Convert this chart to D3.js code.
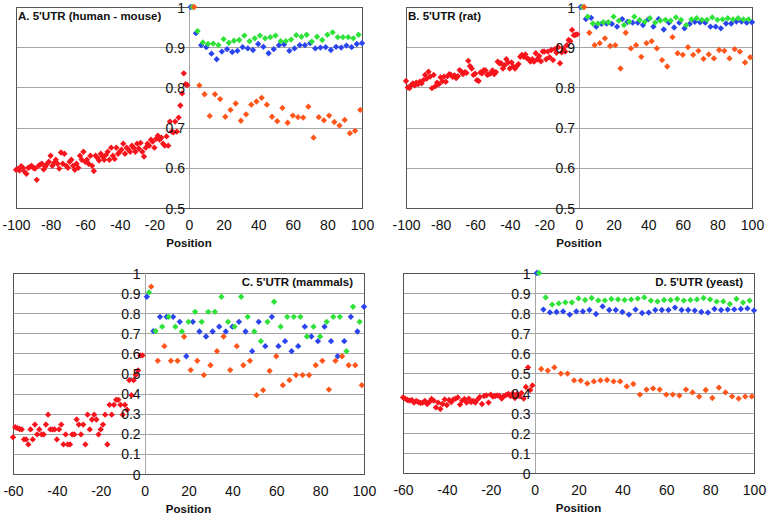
<!DOCTYPE html>
<html>
<head>
<meta charset="utf-8">
<script src="https://cdn.jsdelivr.net/npm/d3@7"></script>
<style>
  body { margin: 0; background: #fff; }
  svg { display: block; font-family: "Liberation Sans", Arial, sans-serif; }
</style>
</head>
<body>
<div id="chart"></div>
<script>
// values: red = upstream positions, then codon positions 1/2/3 (blue/green/orange)

var aRed = [
  0.595, 0.597, 0.593, 0.604, 0.600, 0.590, 0.585, 0.600, 0.602, 0.605,
  0.600, 0.598, 0.570, 0.605, 0.608, 0.610, 0.596, 0.603, 0.610, 0.615,
  0.630, 0.605, 0.612, 0.620, 0.610, 0.598, 0.638, 0.610, 0.635, 0.605,
  0.600, 0.615, 0.620, 0.605, 0.595, 0.610, 0.600, 0.630, 0.620, 0.640,
  0.615, 0.620, 0.610, 0.630, 0.605, 0.592, 0.630, 0.625, 0.618, 0.635,
  0.628, 0.620, 0.632, 0.640, 0.620, 0.650, 0.630, 0.622, 0.650, 0.635,
  0.640, 0.645, 0.660, 0.635, 0.650, 0.645, 0.640, 0.655, 0.650, 0.640,
  0.660, 0.648, 0.662, 0.640, 0.628, 0.650, 0.660, 0.655, 0.670, 0.665,
  0.650, 0.672, 0.680, 0.670, 0.675, 0.660, 0.655, 0.678, 0.655, 0.715,
  0.690, 0.688, 0.715, 0.690, 0.725, 0.755, 0.785, 0.835, 0.808, 0.806
];
var aBlue = [1, 0.935, 0.905, 0.900, 0.884, 0.870, 0.889, 0.895, 0.888, 0.891,
  0.900, 0.897, 0.893, 0.908, 0.901, 0.885, 0.895, 0.905, 0.907, 0.891,
  0.897, 0.905, 0.905, 0.910, 0.897, 0.899, 0.900, 0.893, 0.901, 0.899,
  0.904, 0.900, 0.908, 0.910];
var aGreen = [1, 0.940, 0.912, 0.908, 0.909, 0.905, 0.920, 0.911, 0.916, 0.918,
  0.929, 0.915, 0.922, 0.929, 0.922, 0.925, 0.929, 0.915, 0.915, 0.919,
  0.930, 0.926, 0.931, 0.914, 0.926, 0.918, 0.931, 0.937, 0.925, 0.925,
  0.925, 0.922, 0.931];
var aOrange = [1, 0.805, 0.783, 0.729, 0.783, 0.771, 0.727, 0.744, 0.760, 0.717,
  0.733, 0.757, 0.765, 0.774, 0.757, 0.727, 0.716, 0.749, 0.712, 0.730,
  0.726, 0.725, 0.752, 0.675, 0.726, 0.718, 0.730, 0.714, 0.705, 0.719,
  0.686, 0.692, 0.744];

var bRed = [
  0.816, 0.800, 0.798, 0.806, 0.810, 0.805, 0.812, 0.808, 0.814, 0.810,
  0.818, 0.831, 0.822, 0.839, 0.827, 0.798, 0.831, 0.803, 0.812, 0.808,
  0.825, 0.815, 0.827, 0.814, 0.828, 0.833, 0.831, 0.826, 0.830, 0.823,
  0.828, 0.843, 0.839, 0.833, 0.838, 0.836, 0.866, 0.853, 0.847, 0.831,
  0.834, 0.818, 0.816, 0.837, 0.835, 0.843, 0.842, 0.831, 0.833, 0.835,
  0.842, 0.833, 0.838, 0.864, 0.860, 0.860, 0.847, 0.855, 0.870, 0.862,
  0.847, 0.862, 0.852, 0.847, 0.853, 0.858, 0.876, 0.881, 0.876, 0.882,
  0.872, 0.870, 0.864, 0.870, 0.864, 0.885, 0.870, 0.878, 0.865, 0.889,
  0.889, 0.870, 0.889, 0.875, 0.893, 0.868, 0.895, 0.886, 0.900, 0.860,
  0.887, 0.897, 0.889, 0.905, 0.918, 0.915, 0.943, 0.930, 0.931, 0.932
];
var bBlue = [1, 0.970, 0.973, 0.951, 0.958, 0.959, 0.958, 0.951, 0.970, 0.963,
  0.961, 0.961, 0.955, 0.969, 0.951, 0.970, 0.944, 0.961, 0.949, 0.961,
  0.947, 0.958, 0.963, 0.962, 0.961, 0.951, 0.951, 0.947, 0.959, 0.959,
  0.964, 0.964, 0.961, 0.962];
var bGreen = [1, 0.976, 0.959, 0.959, 0.962, 0.962, 0.976, 0.966, 0.955, 0.963,
  0.976, 0.968, 0.963, 0.972, 0.961, 0.966, 0.968, 0.966, 0.974, 0.968,
  0.955, 0.969, 0.972, 0.968, 0.968, 0.974, 0.968, 0.969, 0.972, 0.969,
  0.972, 0.969, 0.969];
var bOrange = [1, 0.936, 0.905, 0.910, 0.922, 0.903, 0.905, 0.847, 0.936, 0.897,
  0.905, 0.876, 0.910, 0.915, 0.897, 0.868, 0.852, 0.925, 0.885, 0.881,
  0.900, 0.881, 0.891, 0.871, 0.882, 0.872, 0.893, 0.891, 0.872, 0.895,
  0.889, 0.862, 0.875];

var cRed = [
  0.183, 0.233, 0.228, 0.224, 0.222, 0.172, 0.172, 0.147, 0.222, 0.172,
  0.246, 0.197, 0.222, 0.197, 0.197, 0.246, 0.295, 0.222, 0.222, 0.222,
  0.172, 0.222, 0.246, 0.147, 0.197, 0.147, 0.147, 0.197, 0.197, 0.271,
  0.246, 0.197, 0.246, 0.147, 0.295, 0.222, 0.271, 0.295, 0.271, 0.197,
  0.222, 0.246, 0.295, 0.147, 0.344, 0.295, 0.344, 0.369, 0.369, 0.344,
  0.295, 0.344, 0.320, 0.467, 0.392, 0.467, 0.493, 0.515, 0.590, 0.590
];
var cBlue = [0.882, 0.711, 0.782, 0.782, 0.782, 0.757, 0.586, 0.757, 0.709, 0.684,
  0.709, 0.733, 0.709, 0.733, 0.757, 0.709, 0.611, 0.757, 0.636, 0.782,
  0.636, 0.661, 0.611, 0.636, 0.733, 0.684, 0.661, 0.733, 0.661, 0.586,
  0.661, 0.782, 0.709, 0.832];
var cGreen = [0.904, 0.711, 0.733, 0.782, 0.733, 0.709, 0.757, 0.807, 0.757, 0.807,
  0.807, 0.882, 0.757, 0.733, 0.882, 0.782, 0.709, 0.661, 0.757, 0.857,
  0.733, 0.782, 0.782, 0.782, 0.684, 0.733, 0.684, 0.757, 0.782, 0.782,
  0.611, 0.832, 0.757];
var cOrange = [0.932, 0.563, 0.636, 0.563, 0.563, 0.683, 0.517, 0.563, 0.492, 0.541,
  0.611, 0.684, 0.517, 0.636, 0.541, 0.563, 0.392, 0.417, 0.513, 0.586,
  0.442, 0.467, 0.492, 0.492, 0.492, 0.541, 0.563, 0.420, 0.563, 0.586,
  0.541, 0.541, 0.442];

var dRed = [
  0.378, 0.372, 0.365, 0.362, 0.365, 0.352, 0.360, 0.355, 0.350, 0.352,
  0.360, 0.345, 0.355, 0.370, 0.362, 0.328, 0.352, 0.320, 0.345, 0.368,
  0.340, 0.365, 0.355, 0.368, 0.372, 0.378, 0.342, 0.362, 0.370, 0.352,
  0.372, 0.355, 0.360, 0.352, 0.368, 0.380, 0.345, 0.385, 0.388, 0.352,
  0.392, 0.382, 0.385, 0.388, 0.385, 0.372, 0.385, 0.390, 0.395, 0.385,
  0.398, 0.375, 0.395, 0.385, 0.400, 0.372, 0.430, 0.528, 0.415, 0.438
];
var dBlue = [1, 0.817, 0.803, 0.805, 0.808, 0.792, 0.808, 0.808, 0.815, 0.795,
  0.833, 0.815, 0.815, 0.805, 0.792, 0.817, 0.800, 0.802, 0.815, 0.815,
  0.815, 0.827, 0.815, 0.815, 0.812, 0.805, 0.802, 0.820, 0.815, 0.817,
  0.818, 0.820, 0.823, 0.813];
var dGreen = [1, 0.878, 0.842, 0.848, 0.853, 0.853, 0.873, 0.865, 0.875, 0.863,
  0.863, 0.870, 0.868, 0.865, 0.868, 0.872, 0.878, 0.862, 0.858, 0.865,
  0.865, 0.870, 0.862, 0.865, 0.868, 0.875, 0.868, 0.857, 0.858, 0.845,
  0.870, 0.852, 0.862];
var dOrange = [0.520, 0.512, 0.528, 0.497, 0.497, 0.463, 0.462, 0.448, 0.458, 0.463,
  0.465, 0.458, 0.458, 0.433, 0.445, 0.392, 0.417, 0.423, 0.417, 0.392,
  0.392, 0.387, 0.417, 0.403, 0.382, 0.415, 0.375, 0.427, 0.403, 0.383,
  0.372, 0.382, 0.383];

var ticksX100 = [-100, -80, -60, -40, -20, 0, 20, 40, 60, 80, 100];
var ticksX60 = [-60, -40, -20, 0, 20, 40, 60, 80, 100];
var ticksYHalf = [0.5, 0.6, 0.7, 0.8, 0.9, 1];
var ticksYFull = [0, 0.1, 0.2, 0.3, 0.4, 0.5, 0.6, 0.7, 0.8, 0.9, 1];

var colors = { red: "#f8141c", blue: "#2a44ee", green: "#2fe23a", orange: "#ff561c" };

var panels = [
  { title: "A. 5'UTR (human - mouse)", anchor: "start", red: aRed, blue: aBlue, green: aGreen, orange: aOrange,
    start: -100, xTicks: ticksX100, yTicks: ticksYHalf, left: 16, right: 362, top: 7, bottom: 208 },
  { title: "B. 5'UTR (rat)", anchor: "start", red: bRed, blue: bBlue, green: bGreen, orange: bOrange,
    start: -100, xTicks: ticksX100, yTicks: ticksYHalf, left: 406, right: 752, top: 7, bottom: 208 },
  { title: "C. 5'UTR (mammals)", anchor: "end", red: cRed, blue: cBlue, green: cGreen, orange: cOrange,
    start: -60, xTicks: ticksX60, yTicks: ticksYFull, left: 13, right: 364, top: 273, bottom: 474 },
  { title: "D. 5'UTR (yeast)", anchor: "end", red: dRed, blue: dBlue, green: dGreen, orange: dOrange,
    start: -60, xTicks: ticksX60, yTicks: ticksYFull, left: 403, right: 754, top: 273, bottom: 473 }
];

var svg = d3.select("#chart").append("svg")
  .attr("width", 769)
  .attr("height", 520);

var marker = d3.symbol().type(d3.symbolSquare).size(20);

// plain hyphen minus, as in the original figure
function plain(d) { return String(d); }

function drawPanel(p) {
  var x = d3.scaleLinear().domain([p.start, 100]).range([p.left, p.right]);
  var y = d3.scaleLinear().domain([p.yTicks[0], 1]).range([p.bottom, p.top]);
  var g = svg.append("g");

  // gridlines
  g.selectAll("line.grid")
    .data(p.yTicks)
    .enter().append("line")
    .attr("class", "grid")
    .attr("x1", p.left).attr("x2", p.right)
    .attr("y1", function (d) { return Math.round(y(d)) + 0.5; })
    .attr("y2", function (d) { return Math.round(y(d)) + 0.5; })
    .attr("stroke", "#a6a6a6");

  // plot frame
  g.append("rect")
    .attr("x", p.left + 0.5).attr("y", p.top + 0.5)
    .attr("width", p.right - p.left).attr("height", p.bottom - p.top)
    .attr("fill", "none")
    .attr("stroke", "#555");

  // vertical axis at position 0
  g.append("line")
    .attr("x1", Math.round(x(0)) + 0.5).attr("x2", Math.round(x(0)) + 0.5)
    .attr("y1", p.top).attr("y2", p.bottom)
    .attr("stroke", "#a6a6a6");

  var series = [
    { key: "red", pts: p.red.map(function (v, i) { return [p.start + i, v]; }) },
    { key: "blue", pts: p.blue.map(function (v, i) { return [1 + 3 * i, v]; }) },
    { key: "green", pts: p.green.map(function (v, i) { return [2 + 3 * i, v]; }) },
    { key: "orange", pts: p.orange.map(function (v, i) { return [3 + 3 * i, v]; }) }
  ];

  series.forEach(function (s) {
    g.append("g")
      .selectAll("path")
      .data(s.pts)
      .enter().append("path")
      .attr("d", marker)
      .attr("fill", colors[s.key])
      .attr("transform", function (d) {
        return "translate(" + x(d[0]) + "," + y(d[1]) + ") rotate(45)";
      });
  });

  // x tick labels
  var xAxis = d3.axisBottom(x).tickValues(p.xTicks).tickSize(0).tickPadding(0).tickFormat(plain);
  var gx = g.append("g")
    .attr("transform", "translate(0," + (p.bottom + 22) + ")")
    .call(xAxis);
  gx.select(".domain").remove();
  gx.selectAll("text")
    .attr("dy", 0)
    .attr("font-size", 14)
    .attr("font-family", "Liberation Sans, Arial, sans-serif")
    .attr("fill", "#111");

  // y tick labels sit on the zero axis
  var yAxis = d3.axisLeft(y).tickValues(p.yTicks).tickSize(0).tickPadding(4).tickFormat(plain);
  var gy = g.append("g")
    .attr("transform", "translate(" + x(0) + ",0)")
    .call(yAxis);
  gy.select(".domain").remove();
  gy.selectAll("text")
    .attr("dy", "0.36em")
    .attr("font-size", 14)
    .attr("font-family", "Liberation Sans, Arial, sans-serif")
    .attr("fill", "#111");

  g.append("text")
    .attr("x", (p.left + p.right) / 2)
    .attr("y", p.bottom + 39)
    .attr("text-anchor", "middle")
    .attr("font-size", 11.5)
    .attr("font-weight", "bold")
    .attr("fill", "#111")
    .text("Position");

  g.append("text")
    .attr("x", p.anchor === "start" ? p.left + 2 : p.right - 11)
    .attr("y", p.top + 13)
    .attr("text-anchor", p.anchor)
    .attr("font-size", 11.5)
    .attr("font-weight", "bold")
    .attr("fill", "#111")
    .text(p.title);
}

panels.forEach(drawPanel);
</script>
</body>
</html>
